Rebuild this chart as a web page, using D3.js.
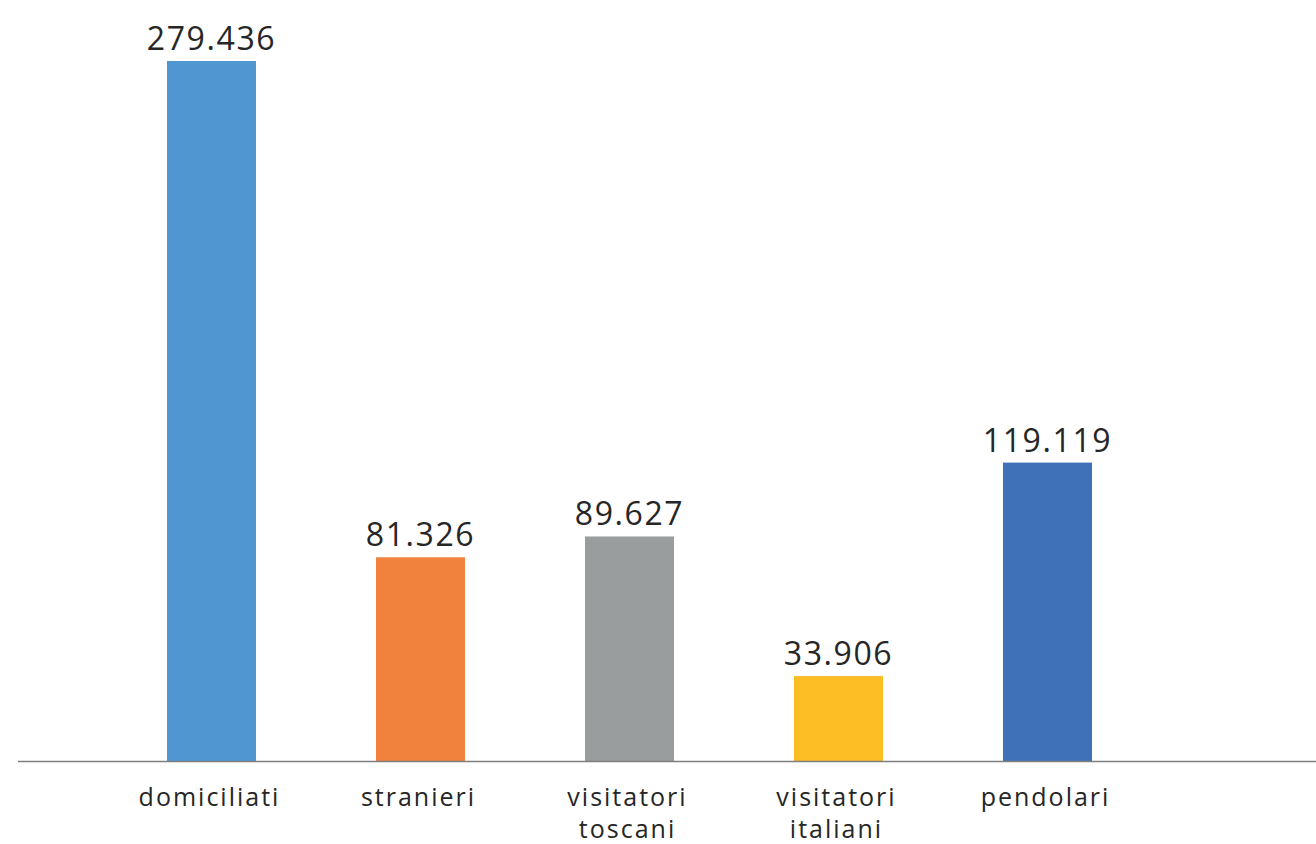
<!DOCTYPE html>
<html>
<head>
<meta charset="utf-8">
<script src="https://cdn.jsdelivr.net/npm/d3@7"></script>
<style>
  html, body { margin: 0; padding: 0; background: #ffffff; }
  svg { display: block; }
</style>
</head>
<body>
<svg id="chart" width="1316" height="844"></svg>
<script>
const categories = ["domiciliati", "stranieri", "visitatori toscani", "visitatori italiani", "pendolari"];
const categoryLines = [["domiciliati"], ["stranieri"], ["visitatori", "toscani"], ["visitatori", "italiani"], ["pendolari"]];
const values = [279436, 81326, 89627, 33906, 119119];
const valueLabels = ["279.436", "81.326", "89.627", "33.906", "119.119"];
const colors = ["#5096D1", "#F1823D", "#9A9D9D", "#FCBD25", "#3E72B8"];

const svg = d3.select("#chart");
const baseY = 761;
const fontFam = "'Open Sans', 'Noto Sans', sans-serif";

const x = d3.scaleBand()
  .domain(categories)
  .range([107, 1152])
  .paddingInner(120 / 209)
  .paddingOuter(60 / 209);

const y = d3.scaleLinear()
  .domain([0, 279436])
  .range([baseY, 61]);

// bars
svg.selectAll("rect.bar")
  .data(categories)
  .join("rect")
  .attr("class", "bar")
  .attr("x", d => x(d))
  .attr("width", x.bandwidth())
  .attr("y", (d, i) => y(values[i]))
  .attr("height", (d, i) => baseY - y(values[i]))
  .attr("fill", (d, i) => colors[i]);

// axis line
svg.append("line")
  .attr("x1", 18).attr("x2", 1316)
  .attr("y1", baseY + 0.5).attr("y2", baseY + 0.5)
  .attr("stroke", "#7f7f7f")
  .attr("stroke-width", 1.3);

// value labels
svg.selectAll("text.val")
  .data(categories)
  .join("text")
  .attr("class", "val")
  .attr("x", d => x(d) + x.bandwidth() / 2)
  .attr("y", (d, i) => y(values[i]) - 11)
  .attr("text-anchor", "middle")
  .attr("font-family", fontFam)
  .attr("font-size", 32)
  .attr("letter-spacing", 1.6)
  .attr("fill", "#262626")
  .text((d, i) => valueLabels[i]);

// category labels
const cat = svg.selectAll("text.cat")
  .data(categories)
  .join("text")
  .attr("class", "cat")
  .attr("text-anchor", "middle")
  .attr("font-family", fontFam)
  .attr("font-size", 25)
  .attr("letter-spacing", 2)
  .attr("fill", "#262626");

cat.each(function(d, i) {
  const t = d3.select(this);
  categoryLines[i].forEach((line, j) => {
    t.append("tspan")
      .attr("x", x(d) + x.bandwidth() / 2 - 2)
      .attr("y", 806 + j * 32)
      .text(line);
  });
});
</script>
</body>
</html>
